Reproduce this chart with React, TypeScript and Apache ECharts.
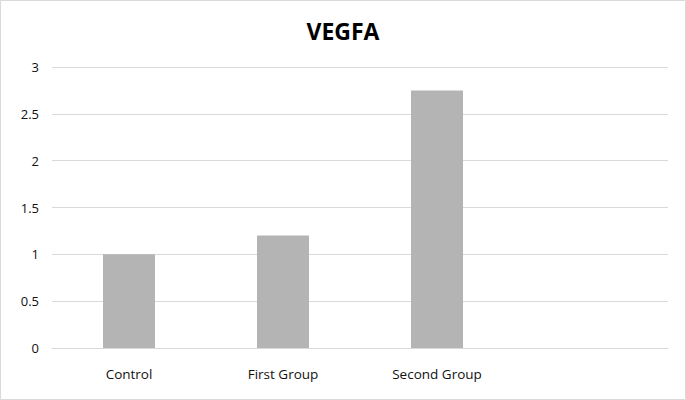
import React, { useEffect, useRef } from "react";
import * as echarts from "echarts";

const categories = ["Control", "First Group", "Second Group", ""];
const values: (number | null)[] = [1, 1.2, 2.75, null];
const yTicks = { min: 0, max: 3, interval: 0.5 };
const title = "VEGFA";

export default function App() {
  const ref = useRef<HTMLDivElement>(null);
  useEffect(() => {
    document.body.style.margin = "0";
    const chart = echarts.init(ref.current!, null, { renderer: "svg" });
    chart.setOption({
      animation: false,
      backgroundColor: "#ffffff",
      title: {
        text: title,
        left: "center",
        top: 14,
        textStyle: { fontFamily: "Open Sans", fontSize: 23, fontWeight: "bold", color: "#000000" },
      },
      grid: { left: 52, right: 18, top: 67, bottom: 52 },
      xAxis: {
        type: "category",
        data: categories,
        axisLine: { lineStyle: { color: "#d9d9d9", width: 1 } },
        axisTick: { show: false },
        axisLabel: { fontFamily: "Open Sans", fontSize: 13.5, color: "#111111", margin: 19 },
      },
      yAxis: {
        type: "value",
        min: yTicks.min,
        max: yTicks.max,
        interval: yTicks.interval,
        axisLine: { show: false },
        axisTick: { show: false },
        axisLabel: { fontFamily: "Open Sans", fontSize: 13, color: "#111111", margin: 13 },
        splitLine: { lineStyle: { color: "#d9d9d9", width: 1 } },
      },
      graphic: [
        {
          type: "rect",
          shape: { x: 0.5, y: 0.5, width: 685, height: 399 },
          style: { fill: "none", stroke: "#d9d9d9", lineWidth: 1 },
          silent: true,
        },
      ],
      series: [
        {
          type: "bar",
          data: values,
          barWidth: 52,
          itemStyle: { color: "#b4b4b4" },
        },
      ],
    });
    return () => chart.dispose();
  }, []);
  return <div ref={ref} style={{ width: 686, height: 400 }} />;
}
